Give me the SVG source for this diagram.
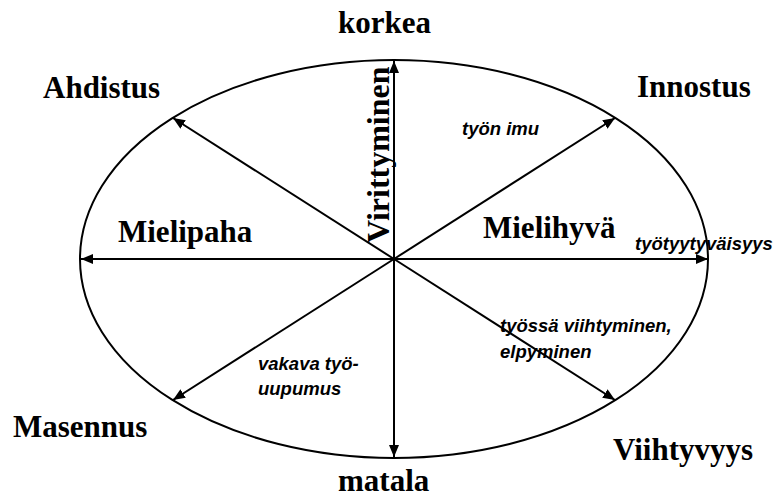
<svg xmlns="http://www.w3.org/2000/svg" width="774" height="499" viewBox="0 0 774 499">
  <style>
    .big { font-family: "Liberation Serif", "Times New Roman", serif; font-weight: bold; font-size: 31px; fill: #000; }
    .note { font-family: "Liberation Sans", Arial, sans-serif; font-weight: bold; font-style: italic; font-size: 18.5px; fill: #000; }
    .axis { stroke: #000; stroke-width: 2; fill: none; marker-end: url(#head); }
  </style>
  <defs>
    <marker id="head" markerUnits="userSpaceOnUse" markerWidth="14" markerHeight="10" refX="12" refY="5" orient="auto">
      <path d="M0,0 L12,5 L0,10 Z" fill="#000"/>
    </marker>
  </defs>

  <rect width="774" height="499" fill="#fff"/>

  <!-- outer ellipse -->
  <g id="frame">
    <ellipse cx="394" cy="259" rx="314" ry="199" fill="none" stroke="#000" stroke-width="2"/>
  </g>

  <!-- axes radiating from the centre -->
  <g id="connectors">
    <line class="axis" x1="394" y1="259" x2="394" y2="61"/>
    <line class="axis" x1="394" y1="259" x2="394" y2="457"/>
    <line class="axis" x1="394" y1="259" x2="81" y2="259"/>
    <line class="axis" x1="394" y1="259" x2="708" y2="259"/>
    <line class="axis" x1="394" y1="259" x2="615" y2="118"/>
    <line class="axis" x1="394" y1="259" x2="173" y2="118"/>
    <line class="axis" x1="394" y1="259" x2="615" y2="400"/>
    <line class="axis" x1="394" y1="259" x2="173" y2="400"/>
  </g>

  <g id="korkea"><text class="big" x="338" y="33">korkea</text></g>
  <g id="matala"><text class="big" x="338" y="491">matala</text></g>
  <g id="ahdistus"><text class="big" x="43" y="98">Ahdistus</text></g>
  <g id="innostus"><text class="big" x="637" y="97">Innostus</text></g>
  <g id="masennus"><text class="big" x="13" y="437">Masennus</text></g>
  <g id="viihtyvyys"><text class="big" x="613" y="460">Viihtyvyys</text></g>
  <g id="mielipaha"><text class="big" x="118" y="242">Mielipaha</text></g>
  <g id="mielihyva"><text class="big" x="483" y="238">Mielihyvä</text></g>
  <g id="virittyminen"><text class="big" style="font-size:32px" transform="translate(389,243) rotate(-90)" x="0" y="0">Virittyminen</text></g>

  <g id="tyon-imu"><text class="note" x="462" y="135">työn imu</text></g>
  <g id="tyotyytyvaisyys"><text class="note" x="635" y="250">työtyytyväisyys</text></g>
  <g id="viihtyminen">
    <text class="note" x="500" y="332">työssä viihtyminen,</text>
    <text class="note" x="500" y="358">elpyminen</text>
  </g>
  <g id="uupumus">
    <text class="note" x="258" y="370">vakava työ-</text>
    <text class="note" x="258" y="395">uupumus</text>
  </g>
</svg>
